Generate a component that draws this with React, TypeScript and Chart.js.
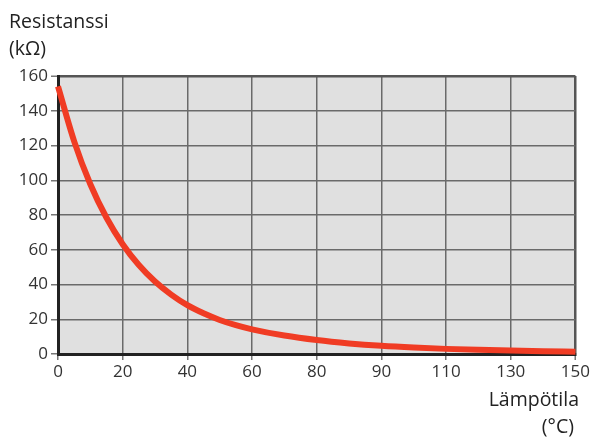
import React, { useEffect, useRef } from "react";
import { Chart, registerables } from "chart.js";

Chart.register(...registerables);

// Evenly spaced axis positions and the labels printed under them
const xTickPositions = [0, 20, 40, 60, 80, 100, 120, 140, 160];
const xTickLabels = ["0", "20", "40", "60", "80", "90", "110", "130", "150"];
const yTickValues = [0, 20, 40, 60, 80, 100, 120, 140, 160];

// Curve (axis position, resistance kΩ)
const curvePositions = [0, 5, 10, 15, 20, 25, 30, 35, 40, 45, 50, 55, 60, 70, 80, 90, 100, 110, 120, 130, 140, 150, 160];
const curveResistance = [154, 122.4, 97.7, 78.4, 63.2, 51.2, 41.7, 34.2, 28.1, 23.4, 19.6, 16.6, 14.2, 10.6, 8.0, 6.1, 4.7, 3.7, 2.95, 2.4, 1.95, 1.6, 1.3];

const yTitleLines = ["Resistanssi", "(kΩ)"];
const xTitleLines = ["Lämpötila", "(°C)"];

const FONT = "'Open Sans', 'Noto Sans', sans-serif";

export default function App() {
  const ref = useRef<HTMLCanvasElement | null>(null);

  useEffect(() => {
    document.body.style.margin = "0";
    const canvas = ref.current;
    if (!canvas) return;

    const bgPlugin = {
      id: "plotBg",
      beforeDraw(chart: any) {
        const { ctx, chartArea } = chart;
        ctx.save();
        ctx.fillStyle = "#e0e0e0";
        ctx.fillRect(chartArea.left, chartArea.top, chartArea.right - chartArea.left, chartArea.bottom - chartArea.top);
        ctx.restore();
      },
      afterDraw(chart: any) {
        const { ctx } = chart;
        ctx.save();
        ctx.fillStyle = "#222";
        ctx.font = `19.5px ${FONT}`;
        ctx.textAlign = "left";
        ctx.textBaseline = "alphabetic";
        ctx.fillText(yTitleLines[0], 9, 28);
        ctx.fillText(yTitleLines[1], 9, 55);
        ctx.textAlign = "right";
        ctx.fillText(xTitleLines[0], 579, 406);
        ctx.fillText(xTitleLines[1], 574, 433);
        ctx.restore();
      },
    };

    const chart = new Chart(canvas, {
      type: "line",
      data: {
        datasets: [
          {
            data: curvePositions.map((x, i) => ({ x, y: curveResistance[i] })),
            borderColor: "#f03c24",
            borderWidth: 6,
            pointRadius: 0,
            cubicInterpolationMode: "monotone",
            clip: false as any,
            borderCapStyle: "butt",
          },
        ],
      },
      options: {
        animation: false,
        responsive: false,
        maintainAspectRatio: false,
        events: [],
        layout: { padding: { left: 0, right: 16, top: 76, bottom: 55 } },
        plugins: {
          legend: { display: false },
          tooltip: { enabled: false },
        },
        scales: {
          x: {
            type: "linear",
            min: 0,
            max: 160,
            afterBuildTicks: (scale: any) => {
              scale.ticks = xTickPositions.map((v) => ({ value: v }));
            },
            afterFit: (scale: any) => {
              scale.height = 30;
            },
            ticks: {
              autoSkip: false,
              maxRotation: 0,
              padding: 2,
              color: "#333",
              font: { family: FONT, size: 17 },
              callback: (v: any) => {
                const i = xTickPositions.indexOf(Number(v));
                return i >= 0 ? xTickLabels[i] : "";
              },
            },
            grid: {
              color: (c: any) => (c.tick && c.tick.value === 160 ? "#555" : "#6a6a6a"),
              lineWidth: (c: any) => (c.tick && c.tick.value === 160 ? 2.5 : 1.5),
              tickLength: 6,
              tickColor: "#777",
              tickWidth: 1.5,
            },
            border: { display: true, color: "#222", width: 3 },
          },
          y: {
            type: "linear",
            min: 0,
            max: 160,
            afterBuildTicks: (scale: any) => {
              scale.ticks = yTickValues.map((v) => ({ value: v }));
            },
            afterFit: (scale: any) => {
              scale.width = 58;
            },
            ticks: {
              padding: 3,
              color: "#333",
              font: { family: FONT, size: 17 },
            },
            grid: {
              color: (c: any) => (c.tick && c.tick.value === 160 ? "#555" : "#6a6a6a"),
              lineWidth: (c: any) => (c.tick && c.tick.value === 160 ? 2.5 : 1.5),
              tickLength: 7,
              tickColor: "#777",
              tickWidth: 1.5,
            },
            border: { display: true, color: "#222", width: 3 },
          },
        },
      } as any,
      plugins: [bgPlugin],
    });

    return () => chart.destroy();
  }, []);

  return (
    <div style={{ position: "relative", width: 592, height: 439 }}>
      <canvas ref={ref} width={592} height={439} style={{ display: "block", width: 592, height: 439 }} />
    </div>
  );
}
